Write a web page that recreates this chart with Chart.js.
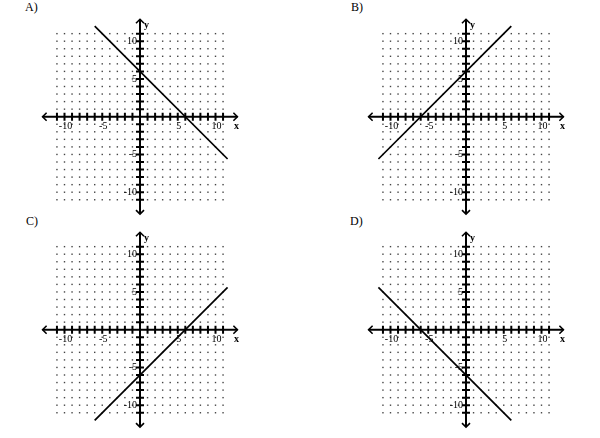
<!DOCTYPE html>
<html>
<head>
<meta charset="utf-8">
<script src="https://cdn.jsdelivr.net/npm/chart.js@4"></script>
<style>
  body { margin: 0; background: #fff; width: 600px; height: 438px; overflow: hidden; position: relative; }
  canvas { position: absolute; }
  .tag { position: absolute; font: 12px "Liberation Serif", serif; color: #000; }
</style>
</head>
<body>
<div class="tag" style="left:25px;top:0px">A)</div>
<div class="tag" style="left:351px;top:0px">B)</div>
<div class="tag" style="left:26px;top:214px">C)</div>
<div class="tag" style="left:350px;top:214px">D)</div>
<canvas id="pA" width="270" height="219" style="left:0px;top:0px"></canvas>
<canvas id="pB" width="270" height="219" style="left:325.7px;top:0px"></canvas>
<canvas id="pC" width="270" height="219" style="left:0px;top:213.3px"></canvas>
<canvas id="pD" width="270" height="219" style="left:325.7px;top:213.3px"></canvas>
<script>
// lines drawn in each answer panel (two end points each)
var aX = [-6, 11.6],   aY = [12, -5.6];
var bX = [-11.6, 6],   bY = [-5.6, 12];
var cX = [-6, 11.6],   cY = [-12, 5.6];
var dX = [-11.6, 6],   dY = [5.6, -12];

var xTickLabels = [-10, -5, 5, 10];
var yTickLabels = [10, 5, -5, -10];
var tickValues = [-11,-10,-9,-8,-7,-6,-5,-4,-3,-2,-1,1,2,3,4,5,6,7,8,9,10,11];
var gridValues = [-11,-10,-9,-8,-7,-6,-5,-4,-3,-2,-1,0,1,2,3,4,5,6,7,8,9,10,11];
var axisEnd = 12.9;

// draws the dot grid, axes with arrows, ticks and labels
var axesPlugin = {
  id: 'axes',
  beforeDatasetsDraw: function(chart) {
    var ctx = chart.ctx;
    var sx = chart.scales.x, sy = chart.scales.y;
    var ox = sx.getPixelForValue(0), oy = sy.getPixelForValue(0);
    ctx.save();

    // dots
    ctx.fillStyle = '#444';
    gridValues.forEach(function(i) {
      gridValues.forEach(function(j) {
        if (i === 0 || j === 0) return;
        ctx.fillRect(sx.getPixelForValue(i) - 0.7, sy.getPixelForValue(j) - 0.7, 1.4, 1.4);
      });
    });

    ctx.strokeStyle = '#000';
    ctx.lineWidth = 2;
    var x0 = sx.getPixelForValue(-axisEnd), x1 = sx.getPixelForValue(axisEnd);
    var y0 = sy.getPixelForValue(axisEnd), y1 = sy.getPixelForValue(-axisEnd);
    ctx.beginPath();
    ctx.moveTo(x0, oy); ctx.lineTo(x1, oy);
    ctx.moveTo(ox, y0); ctx.lineTo(ox, y1);
    ctx.stroke();

    // arrow heads
    ctx.lineWidth = 1.6;
    ctx.beginPath();
    ctx.moveTo(x0 + 4, oy - 4); ctx.lineTo(x0, oy); ctx.lineTo(x0 + 4, oy + 4);
    ctx.moveTo(x1 - 4, oy - 4); ctx.lineTo(x1, oy); ctx.lineTo(x1 - 4, oy + 4);
    ctx.moveTo(ox - 4, y0 + 4); ctx.lineTo(ox, y0); ctx.lineTo(ox + 4, y0 + 4);
    ctx.moveTo(ox - 4, y1 - 4); ctx.lineTo(ox, y1); ctx.lineTo(ox + 4, y1 - 4);
    ctx.stroke();

    // ticks
    ctx.lineWidth = 2;
    ctx.beginPath();
    tickValues.forEach(function(v) {
      var px = sx.getPixelForValue(v);
      ctx.moveTo(px, oy - 4); ctx.lineTo(px, oy + 4);
      var py = sy.getPixelForValue(v);
      ctx.moveTo(ox - 4, py); ctx.lineTo(ox + 4, py);
    });
    ctx.stroke();

    // tick labels
    ctx.fillStyle = '#000';
    ctx.font = '10px "Liberation Serif", serif';
    ctx.textAlign = 'center';
    ctx.textBaseline = 'top';
    xTickLabels.forEach(function(v) {
      ctx.fillText(String(v), sx.getPixelForValue(v) + 1, oy + 5);
    });
    ctx.textAlign = 'right';
    ctx.textBaseline = 'middle';
    yTickLabels.forEach(function(v) {
      ctx.fillText(String(v), ox - 3, sy.getPixelForValue(v));
    });

    ctx.font = 'bold 10px "Liberation Serif", serif';
    ctx.textAlign = 'center';
    ctx.textBaseline = 'top';
    ctx.fillText('x', x1 - 1, oy + 5);
    ctx.textAlign = 'left';
    ctx.fillText('y', ox + 4, y0 + 1);
    ctx.restore();
  }
};

function makePanel(id, xs, ys) {
  var pts = xs.map(function(x, k) { return { x: x, y: ys[k] }; });
  return new Chart(document.getElementById(id), {
    type: 'scatter',
    data: {
      datasets: [{
        data: pts,
        showLine: true,
        borderColor: '#000',
        borderWidth: 1.7,
        pointRadius: 0,
        fill: false
      }]
    },
    options: {
      responsive: false,
      animation: false,
      layout: { padding: { left: 41.85, right: 31.85, top: 18.55, bottom: 4.15 } },
      plugins: { legend: { display: false }, tooltip: { enabled: false } },
      scales: {
        x: { type: 'linear', min: -13, max: 13, display: false },
        y: { type: 'linear', min: -13, max: 13, display: false }
      }
    },
    plugins: [axesPlugin]
  });
}

makePanel('pA', aX, aY);
makePanel('pB', bX, bY);
makePanel('pC', cX, cY);
makePanel('pD', dX, dY);
</script>
</body>
</html>
